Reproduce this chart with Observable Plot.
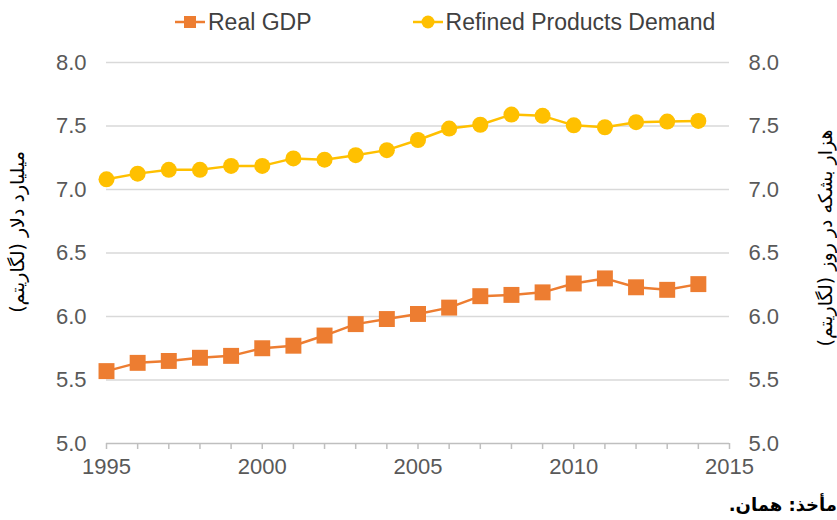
<!DOCTYPE html>
<html>
<head>
<meta charset="utf-8">
<script src="https://cdn.jsdelivr.net/npm/d3@7"></script>
<script src="https://cdn.jsdelivr.net/npm/@observablehq/plot@0.6"></script>
<style>
  body { margin: 0; background: #fff; }
  #wrap { width: 837px; height: 520px; position: relative; overflow: hidden; }
  #legend { height: 44px; display: flex; align-items: center; padding-left: 175px; font-family: "Liberation Sans", Arial, sans-serif; font-size: 23px; color: #404040; }
  .item { display: flex; align-items: center; }
  .item svg { margin-right: 3px; }
  #caption { position: absolute; left: 0; width: 837px; text-align: right; top: 494px; direction: rtl; font-family: "DejaVu Sans", sans-serif; font-weight: bold; font-size: 18px; color: #000; }
</style>
</head>
<body>
<div id="wrap">
  <div id="legend"></div>
  <div id="chart"></div>
  <div id="caption"></div>
</div>
<script>
const years = [1995,1996,1997,1998,1999,2000,2001,2002,2003,2004,2005,2006,2007,2008,2009,2010,2011,2012,2013,2014];
const realGDP = [5.57,5.635,5.65,5.675,5.69,5.75,5.77,5.85,5.94,5.98,6.02,6.07,6.16,6.17,6.19,6.26,6.30,6.23,6.21,6.255];
const refinedDemand = [7.08,7.125,7.155,7.155,7.186,7.186,7.245,7.235,7.27,7.31,7.39,7.48,7.51,7.59,7.58,7.505,7.49,7.53,7.535,7.54];
const seriesNames = ["Real GDP", "Refined Products Demand"];
const seriesColors = ["#ED7D31", "#FFC000"];
const yTicks = [5.0,5.5,6.0,6.5,7.0,7.5,8.0];
const xLabelTicks = [1995,2000,2005,2010,2015];
const xMinorTicks = d3.range(1995, 2016);
const leftLabel = "میلیارد دلار (لگاریتم)";
const rightLabel = "هزار بشکه در روز (لگاریتم)";
const captionText = "مأخذ: همان.";

const gdpData = years.map((y, i) => ({year: y, value: realGDP[i]}));
const refData = years.map((y, i) => ({year: y, value: refinedDemand[i]}));

// legend
const legend = document.getElementById("legend");
seriesNames.forEach((name, i) => {
  const item = document.createElement("div");
  item.className = "item";
  item.style.marginRight = i === 0 ? "101px" : "0";
  const shape = i === 0
    ? `<rect x="9" y="3" width="12" height="12" fill="${seriesColors[i]}"/>`
    : `<circle cx="15" cy="9" r="6.5" fill="${seriesColors[i]}"/>`;
  item.innerHTML = `<svg width="30" height="18"><line x1="0" x2="30" y1="9" y2="9" stroke="${seriesColors[i]}" stroke-width="2.5"/>${shape}</svg><span>${name}</span>`;
  legend.appendChild(item);
});
document.getElementById("caption").textContent = captionText;

const chart = Plot.plot({
  width: 837,
  height: 454,
  marginTop: 18,
  marginBottom: 55,
  marginLeft: 106,
  marginRight: 108,
  x: {domain: [1995, 2015]},
  y: {domain: [5, 8]},
  style: {fontFamily: "'Liberation Sans', Arial, sans-serif", fontSize: "22px", color: "#595959", background: "transparent"},
  marks: [
    Plot.ruleY(yTicks.filter(d => d > 5), {stroke: "#d9d9d9", strokeWidth: 1.5}),
    Plot.ruleY([5], {stroke: "#bfbfbf", strokeWidth: 1.5}),
    Plot.axisX({ticks: xMinorTicks, tickSize: 6, tickFormat: () => "", stroke: "#bfbfbf", strokeWidth: 1.5, label: null}),
    Plot.axisX({ticks: xLabelTicks, tickSize: 0, tickPadding: 15, tickFormat: d => String(d), fill: "#595959", label: null}),
    Plot.axisY({anchor: "left", ticks: yTicks, tickSize: 0, tickPadding: 20, tickFormat: d3.format(".1f"), fill: "#595959", label: null}),
    Plot.axisY({anchor: "right", ticks: yTicks, tickSize: 0, tickPadding: 19, tickFormat: d3.format(".1f"), fill: "#595959", label: null}),
    Plot.text([leftLabel], {frameAnchor: "left", textAnchor: "middle", dx: -89, dy: -21, rotate: -90, fontFamily: "DejaVu Sans, sans-serif", fontSize: 19, fill: "#000"}),
    Plot.text([rightLabel], {frameAnchor: "right", textAnchor: "middle", dx: 96, dy: -15, rotate: -90, fontFamily: "DejaVu Sans, sans-serif", fontSize: 19, fill: "#000"}),
    Plot.line(gdpData, {x: "year", y: "value", stroke: seriesColors[0], strokeWidth: 2.5}),
    Plot.dot(gdpData, {x: "year", y: "value", symbol: "square", fill: seriesColors[0], r: 9}),
    Plot.line(refData, {x: "year", y: "value", stroke: seriesColors[1], strokeWidth: 2.5}),
    Plot.dot(refData, {x: "year", y: "value", symbol: "circle", fill: seriesColors[1], r: 8})
  ]
});
document.getElementById("chart").appendChild(chart);
</script>
</body>
</html>
